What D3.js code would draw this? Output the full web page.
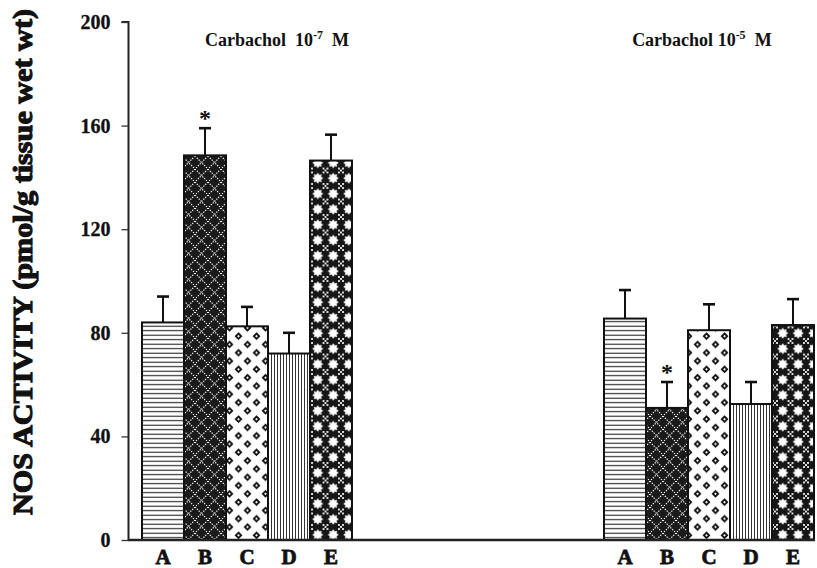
<!DOCTYPE html>
<html>
<head>
<meta charset="utf-8">
<script src="https://cdn.jsdelivr.net/npm/d3@7"></script>
<style>
  html, body { margin: 0; padding: 0; background: #fff; }
  svg { display: block; }
  text { font-family: "Liberation Serif", "Times New Roman", serif; font-weight: bold; fill: #111; }
</style>
</head>
<body>
<svg id="chart" width="817" height="568"></svg>
<script>
// Treatment categories within each carbachol dose
const categories = ["A", "B", "C", "D", "E"];

// Carbachol doses (exponent of molar concentration)
const doseExponents = ["-7", "-5"];

// NOS activity (pmol/g tissue wet wt), mean and SEM
const lowDoseValues = [84, 148.5, 82.5, 72, 146.5];
const lowDoseErrors = [10, 10.5, 7.5, 8, 10];
const highDoseValues = [85.5, 51, 81, 52.5, 83];
const highDoseErrors = [11, 10, 10, 8.5, 10];

// Significance markers
const lowDoseSignificant = [false, true, false, false, false];
const highDoseSignificant = [false, true, false, false, false];

const yTicks = [0, 40, 80, 120, 160, 200];
const yTitle = "NOS ACTIVITY (pmol/g tissue wet wt)";

// ---- layout ----
const svg = d3.select("#chart");
const y = d3.scaleLinear().domain([0, 200]).range([540, 22]);
// bar slots along the x axis: two groups of five, separated by a gap
const slot = d3.scaleLinear().domain([0, 16]).range([142, 814]);
const groupStart = [0, 11];
const titleSlot = [1.5, 11.67];
const barW = slot(1) - slot(0);

const groups = [
  { values: lowDoseValues, errors: lowDoseErrors, sig: lowDoseSignificant, exp: doseExponents[0], sep: "  " },
  { values: highDoseValues, errors: highDoseErrors, sig: highDoseSignificant, exp: doseExponents[1], sep: " " }
];

// ---- fill patterns ----
const defs = svg.append("defs");

// A: horizontal lines
const pA = defs.append("pattern").attr("id", "pA").attr("patternUnits", "userSpaceOnUse")
  .attr("width", 10).attr("height", 4.5);
pA.append("rect").attr("width", 10).attr("height", 4.5).attr("fill", "#fff");
pA.append("line").attr("x1", 0).attr("x2", 10).attr("y1", 2.2).attr("y2", 2.2)
  .attr("stroke", "#222").attr("stroke-width", 1.1);

// B: white dotted diamond lattice on black
const pB = defs.append("pattern").attr("id", "pB").attr("patternUnits", "userSpaceOnUse")
  .attr("width", 13).attr("height", 13);
pB.append("rect").attr("width", 13).attr("height", 13).attr("fill", "#1a1a1a");
[[0, 0, 13, 13], [13, 0, 0, 13]].forEach(([x1, y1, x2, y2]) =>
  pB.append("line").attr("x1", x1).attr("y1", y1).attr("x2", x2).attr("y2", y2)
    .attr("stroke", "#fff").attr("stroke-width", 1.1).attr("stroke-dasharray", "1.3,1.3"));

// C: small diamond rings on white, staggered
const pC = defs.append("pattern").attr("id", "pC").attr("patternUnits", "userSpaceOnUse")
  .attr("width", 18).attr("height", 16.6);
pC.append("rect").attr("width", 18).attr("height", 16.6).attr("fill", "#fff");
[[4.5, 4.15], [13.5, 12.45]].forEach(([cx, cy]) =>
  pC.append("path").attr("d", "M0,-2.7L2.7,0L0,2.7L-2.7,0Z")
    .attr("transform", `translate(${cx},${cy})`)
    .attr("fill", "#fff").attr("stroke", "#111").attr("stroke-width", 1.8));

// D: fine vertical lines
const pD = defs.append("pattern").attr("id", "pD").attr("patternUnits", "userSpaceOnUse")
  .attr("width", 3).attr("height", 10);
pD.append("rect").attr("width", 3).attr("height", 10).attr("fill", "#fff");
pD.append("line").attr("x1", 1.5).attr("x2", 1.5).attr("y1", 0).attr("y2", 10)
  .attr("stroke", "#333").attr("stroke-width", 1);

// E: white stars on black with small crosses between
const pE = defs.append("pattern").attr("id", "pE").attr("patternUnits", "userSpaceOnUse")
  .attr("width", 15.5).attr("height", 15.5);
pE.append("rect").attr("width", 15.5).attr("height", 15.5).attr("fill", "#161616");
const starPts = d3.range(16).map(i => {
  const a = i * Math.PI / 8;
  const r = i % 2 === 0 ? 5.6 : 3.6;
  return [7.75 + r * Math.sin(a), 7.75 - r * Math.cos(a)];
});
pE.append("polygon").attr("points", starPts.map(p => p.join(",")).join(" ")).attr("fill", "#fff");
[[0, 0], [15.5, 0], [0, 15.5], [15.5, 15.5]].forEach(([cx, cy]) => {
  [[-2, -2], [2, -2], [-2, 2], [2, 2], [0, 0]].forEach(([dx, dy]) =>
    pE.append("rect").attr("x", cx + dx - 0.9).attr("y", cy + dy - 0.9)
      .attr("width", 1.8).attr("height", 1.8).attr("fill", "#fff"));
});

const fills = ["url(#pA)", "url(#pB)", "url(#pC)", "url(#pD)", "url(#pE)"];

// ---- y axis ----
const yAxis = d3.axisLeft(y).tickValues(yTicks).tickSize(7).tickPadding(11).tickFormat(d3.format("d"));
const ga = svg.append("g").attr("transform", "translate(128.5,0)").call(yAxis);
ga.select(".domain").attr("stroke", "#222").attr("stroke-width", 2).attr("d", `M-7,${y(200)}H0V${y(0)}`);
ga.selectAll(".tick line").attr("stroke", "#333").attr("stroke-width", 1.3);
ga.selectAll(".tick text").style("font-size", "20px").style("font-family", "Liberation Serif, serif")
  .style("font-weight", "bold").attr("fill", "#111").attr("stroke", "#111").attr("stroke-width", 0.3);

// y axis title
svg.append("text")
  .attr("transform", `translate(32,262) rotate(-90)`)
  .attr("text-anchor", "middle")
  .attr("textLength", 506)
  .attr("lengthAdjust", "spacingAndGlyphs")
  .style("font-size", "28px")
  .style("font-weight", "900")
  .attr("stroke", "#111").attr("stroke-width", 1.1)
  .text(yTitle);

// ---- bars ----
groups.forEach((g, gi) => {
  const gg = svg.append("g");
  const bx = i => slot(groupStart[gi] + i);

  // error bars (upper only)
  gg.selectAll("line.err").data(g.values).join("line")
    .attr("x1", (d, i) => bx(i) + barW / 2).attr("x2", (d, i) => bx(i) + barW / 2)
    .attr("y1", d => y(d)).attr("y2", (d, i) => y(d + g.errors[i]))
    .attr("stroke", "#111").attr("stroke-width", 2);
  gg.selectAll("line.cap").data(g.values).join("line")
    .attr("x1", (d, i) => bx(i) + barW / 2 - 6).attr("x2", (d, i) => bx(i) + barW / 2 + 6)
    .attr("y1", (d, i) => y(d + g.errors[i])).attr("y2", (d, i) => y(d + g.errors[i]))
    .attr("stroke", "#111").attr("stroke-width", 2.6);

  gg.selectAll("rect.bar").data(g.values).join("rect")
    .attr("x", (d, i) => bx(i)).attr("width", barW)
    .attr("y", d => y(d)).attr("height", d => y(0) - y(d))
    .attr("fill", (d, i) => fills[i])
    .attr("stroke", "#111").attr("stroke-width", 2);

  // significance asterisks
  gg.selectAll("text.sig").data(g.values.map((d, i) => ({ d, i })).filter(o => g.sig[o.i])).join("text")
    .attr("x", o => bx(o.i) + barW / 2).attr("y", o => y(o.d + g.errors[o.i]) - 2)
    .attr("text-anchor", "middle").style("font-size", "24px").text("*");

  // category labels
  gg.selectAll("text.cat").data(categories).join("text")
    .attr("x", (d, i) => bx(i) + barW / 2).attr("y", 564)
    .attr("text-anchor", "middle").style("font-size", "21px")
    .attr("stroke", "#111").attr("stroke-width", 0.8).text(d => d);

  // dose title
  const t = svg.append("text").attr("x", slot(titleSlot[gi])).attr("y", 46)
    .style("font-size", "18px").style("white-space", "pre");
  t.append("tspan").text("Carbachol" + g.sep + "10");
  t.append("tspan").attr("dy", -7).style("font-size", "12px").text(g.exp);
  t.append("tspan").attr("dy", 7).text("  M");
});

// baseline
svg.append("line").attr("x1", slot(0) - 14).attr("x2", slot(16) + 1)
  .attr("y1", y(0)).attr("y2", y(0)).attr("stroke", "#222").attr("stroke-width", 2.4);
</script>
</body>
</html>
